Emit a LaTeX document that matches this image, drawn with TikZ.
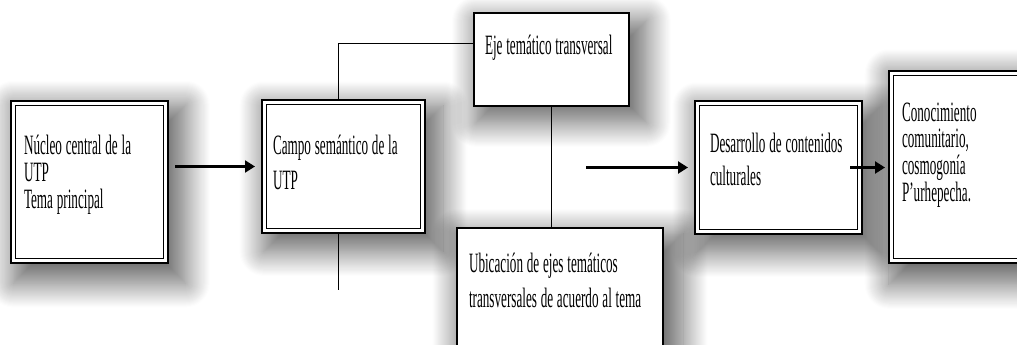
\documentclass[tikz,border=0pt]{standalone}
\usepackage{fontspec}
\setmainfont{Liberation Serif}[FakeStretch=0.47]
\usetikzlibrary{arrows.meta,shadows.blur}

% letra estrecha con interlineado #1
\newcommand{\letra}[1]{\fontsize{28}{#1}\selectfont\fontdimen2\font=3.8pt\fontdimen3\font=0.5pt\fontdimen4\font=0.5pt}

\tikzset{
  caja/.style={draw, fill=white, line width=1.3pt, anchor=north west, align=flush left,
    inner ysep=0pt, outer sep=0pt, font=\letra{27},
    blur shadow={shadow xshift=9pt, shadow yshift=-11pt, shadow blur radius=22pt, shadow blur steps=24, shadow opacity=60, shadow scale=1.1}},
  dcaja/.style={caja, line width=2.5pt},
  flecha/.style={line width=2.2pt, -{Triangle[length=10pt,width=12pt]}},
  enlace/.style={line width=1pt}
}

\begin{document}
\begin{tikzpicture}[x=1pt,y=-1pt]
\useasboundingbox (0,0) rectangle (1017,345);
\begin{pgfinterruptboundingbox}

\node[dcaja, inner xsep=13pt, text width=131pt, text height=53pt, text depth=109pt] (nucleo) at (11,101)
  {N\'ucleo central de la\\UTP\\Tema principal};
\node[dcaja, inner xsep=11pt, text width=141pt, text height=54pt, text depth=79pt,
  font=\letra{35}] (campo) at (262,100)
  {Campo sem\'antico de la\\UTP};
\node[caja, inner xsep=11pt, text width=133pt, text height=42pt, text depth=51pt] (eje) at (474,13)
  {Eje tem\'atico transversal};
\node[caja, inner xsep=12pt, text width=182pt, text height=44pt, text depth=96pt,
  font=\letra{35}] (ubicacion) at (457,228)
  {Ubicaci\'on de ejes tem\'aticos\\transversales de acuerdo al tema};
\node[dcaja, inner xsep=15pt, text width=137pt, text height=51pt, text depth=82pt,
  font=\letra{33}] (desarrollo) at (695,101)
  {Desarrollo de contenidos\\culturales};
\node[dcaja, inner xsep=13pt, text width=174pt, minimum width=200pt, text height=50pt, text depth=142pt,
  font=\letra{27}] (conocimiento) at (889,71)
  {Conocimiento\\comunitario,\\cosmogon\'ia\\P'urhepecha.};

% marco interior de las cajas dobles
\foreach \c in {nucleo,campo,desarrollo,conocimiento}
  \draw[line width=1pt] ([shift={(4.5pt,-4.5pt)}]\c.north west) rectangle ([shift={(-4.5pt,4.5pt)}]\c.south east);

\coordinate (cola) at (338,290);
\coordinate (inicio) at (586,167.5);

\draw[flecha, shorten <=7pt, shorten >=7pt] (nucleo.east |- campo.west) -- (campo.west);
\draw[enlace] ([xshift=-5.5pt]campo.north) |- ([yshift=15.5pt]eje.west);
\draw[enlace] ([xshift=-5.5pt]campo.south) -- (cola);
\draw[enlace] (eje.south) -- (eje.south |- ubicacion.north);
\draw[flecha, shorten >=7pt] (inicio) -- (desarrollo.west);
\draw[flecha, shorten >=4pt] ([xshift=-12pt]desarrollo.east) -- (desarrollo.east -| conocimiento.west);
\end{pgfinterruptboundingbox}
\end{tikzpicture}
\end{document}
